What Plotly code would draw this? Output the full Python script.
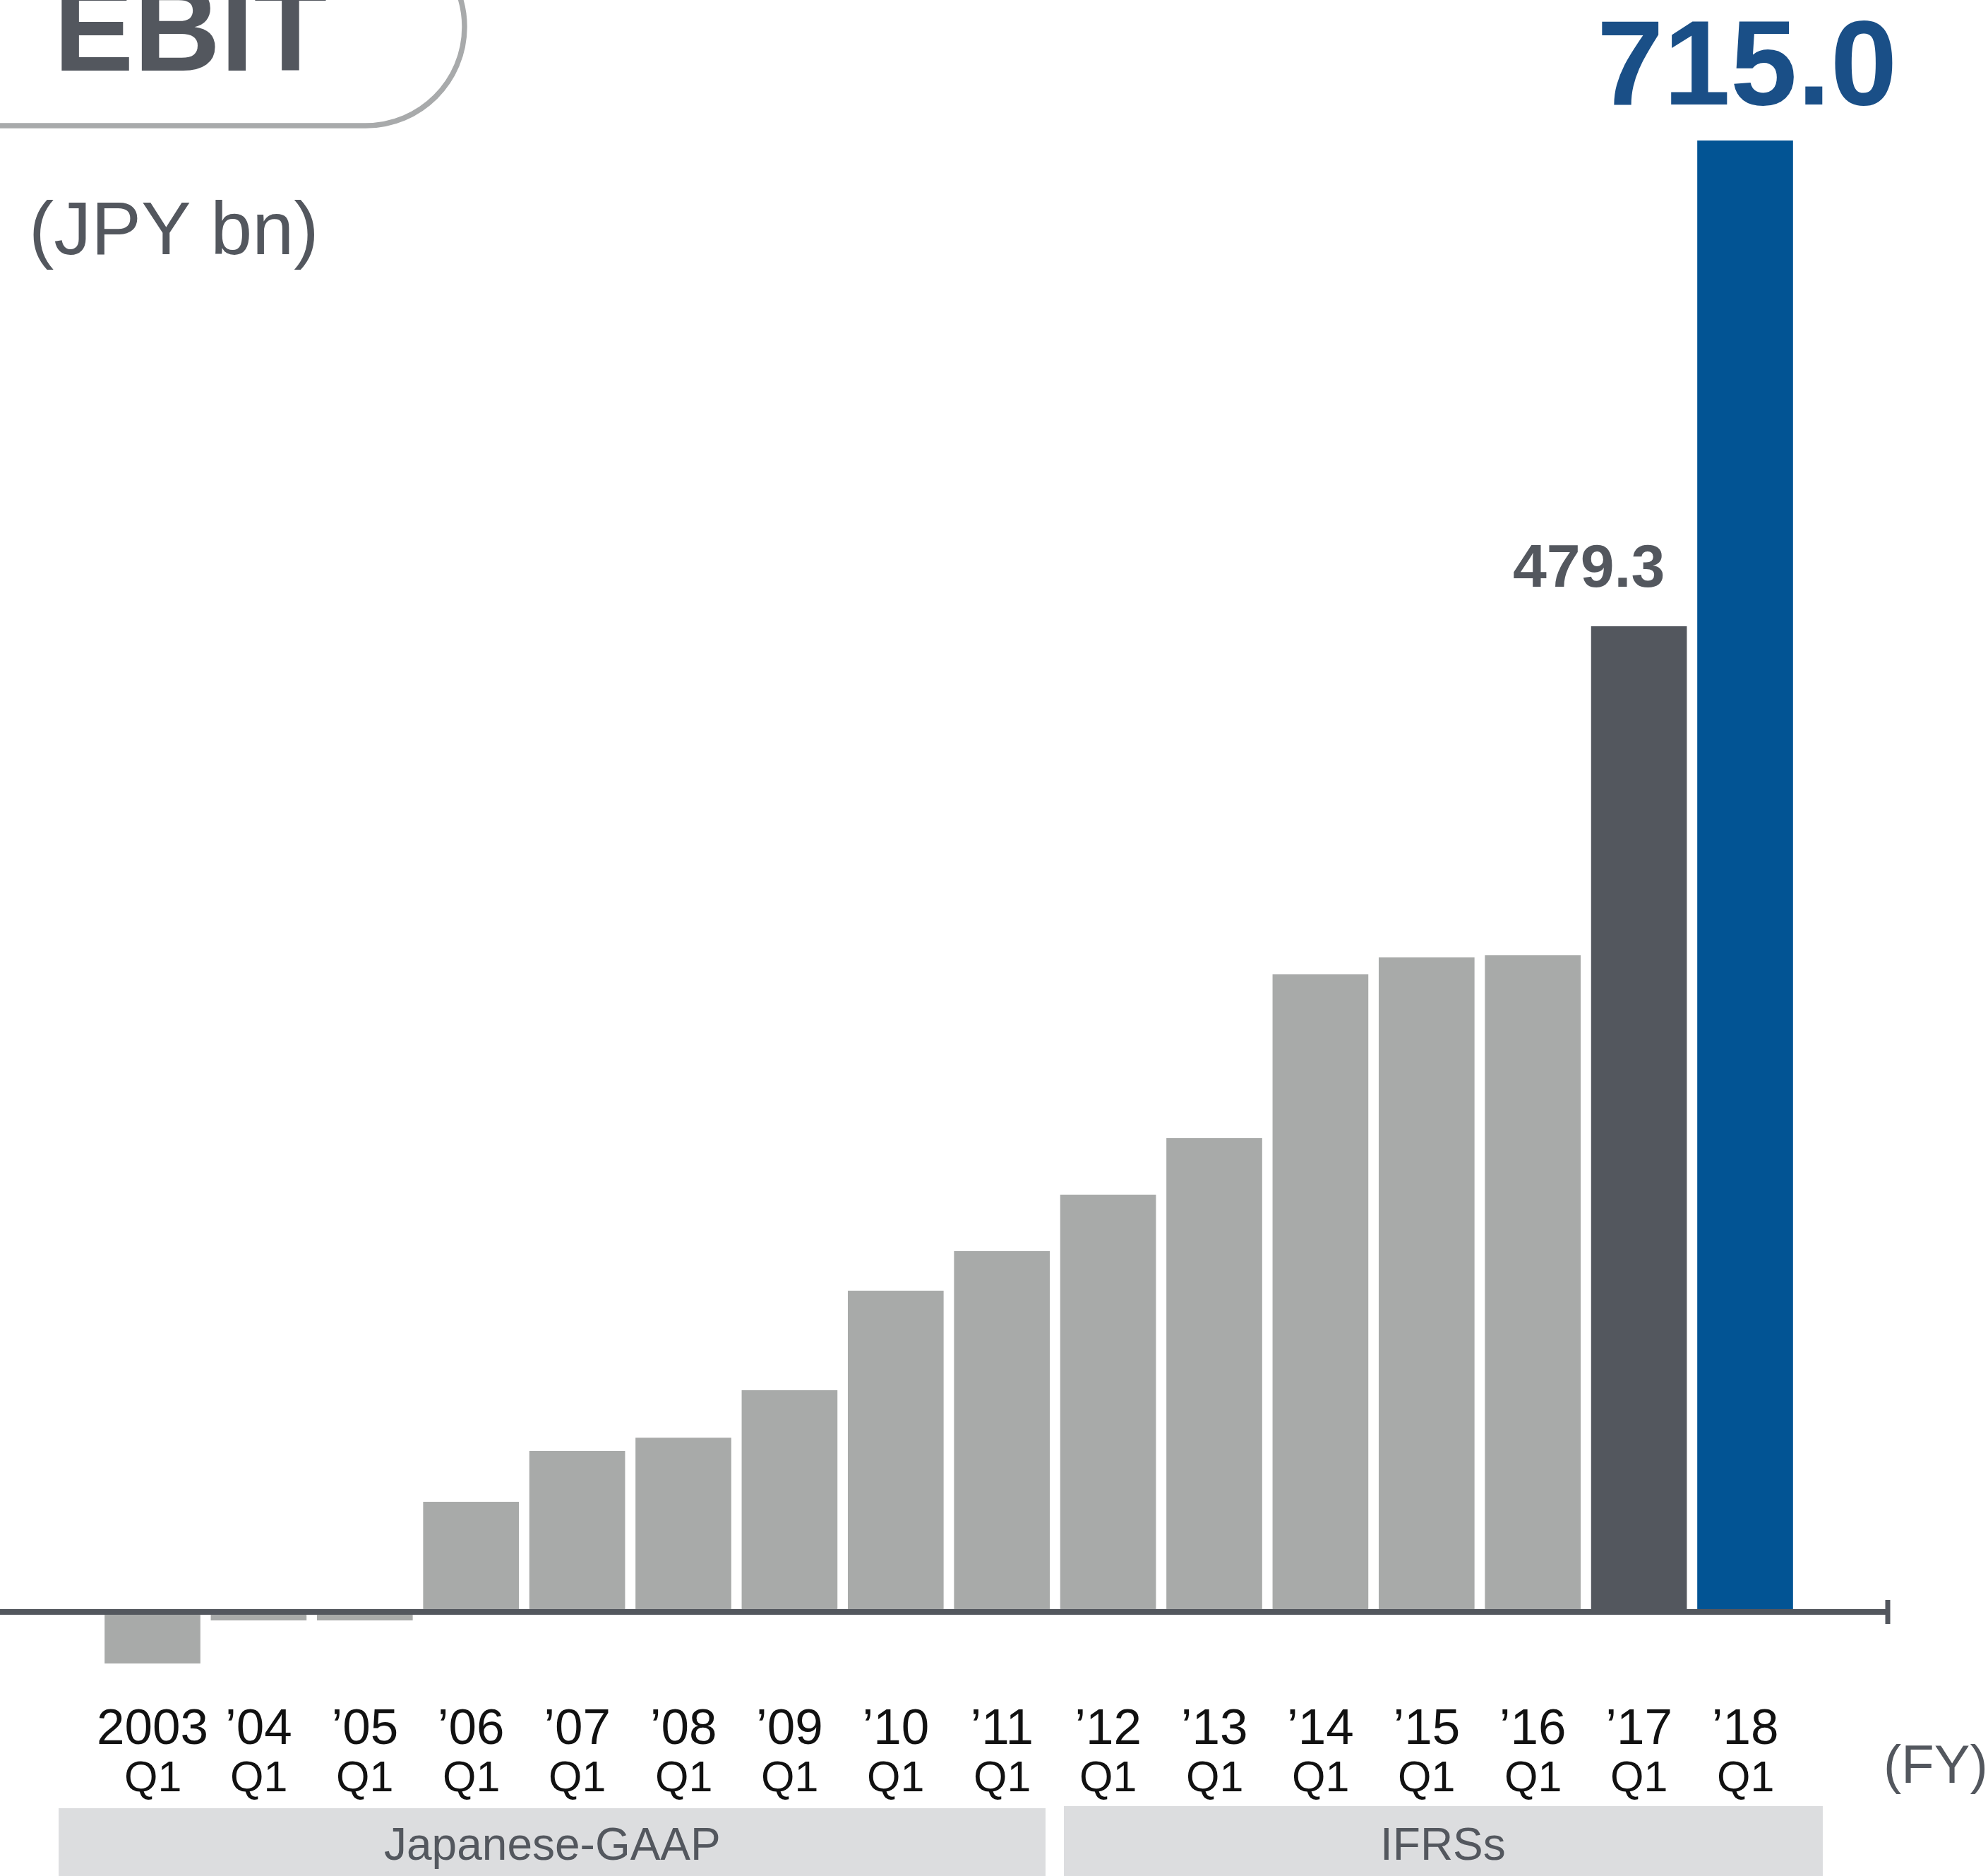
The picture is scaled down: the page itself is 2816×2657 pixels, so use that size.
import plotly.graph_objects as go

# ---- data -------------------------------------------------------------
fiscal_years = ["2003", "’04", "’05", "’06", "’07", "’08", "’09", "’10",
                "’11", "’12", "’13", "’14", "’15", "’16", "’17", "’18"]
quarters = ["Q1"] * len(fiscal_years)
ebit_bn = [-24.0, -3.1, -3.1, 54.5, 79.1, 85.6, 108.6, 156.9,
           176.1, 203.5, 230.9, 310.4, 318.6, 319.6, 479.3, 715.0]
labelled_years = ["’17", "’18"]
standards = ["Japanese-GAAP", "IFRSs"]
standard_first = ["2003", "’12"]
standard_last = ["’11", "’18"]

# ---- canvas / style ---------------------------------------------------
W, H = 2816, 2657
FONT = "Liberation Sans, Arial, sans-serif"
SLATE = "#53575E"
GREY_BAR = "#A8AAA9"
BLUE_BAR = "#025494"
BLUE_TEXT = "#1A4F87"
BAND = "#DCDDDF"
OUTLINE = "#A8AAAB"


def px(x):
    return x / W


def py(y):
    return 1 - y / H


n = len(fiscal_years)
bar_colors = [GREY_BAR] * n
bar_colors[-2] = SLATE
bar_colors[-1] = BLUE_BAR

fig = go.Figure()
fig.add_trace(go.Bar(
    x=fiscal_years, y=ebit_bn,
    marker=dict(color=bar_colors, line=dict(width=0)),
    hoverinfo="x+y",
))

# value labels for the last two years (category serial numbers as x,
# so that "2003" is never read as a number)
label_style = {
    "’17": dict(size=86, color=SLATE, xshift=-71, yshift=86),
    "’18": dict(size=170, color=BLUE_TEXT, xshift=2, yshift=110),
}
for yr in labelled_years:
    i = fiscal_years.index(yr)
    v = ebit_bn[i]
    st = label_style[yr]
    fig.add_annotation(
        x=i, y=v, xref="x", yref="y", text=f"{v:.1f}", showarrow=False,
        xanchor="center", yanchor="middle", xshift=st["xshift"], yshift=st["yshift"],
        font=dict(family=FONT, size=st["size"], color=st["color"], weight="bold"),
    )

# quarter row under the year labels
for i, q in enumerate(quarters):
    fig.add_annotation(
        x=i, y=py(2516), xref="x", yref="paper", text=q, showarrow=False,
        xanchor="center", yanchor="middle",
        font=dict(family=FONT, size=61, color="#111111"),
    )

# accounting-standard bands
band_pad = [(-0.884, 0.411), (-0.416, 0.731)]
band_top = [2561, 2558]
shapes = []
for name, first, last, (lp, rp), top in zip(standards, standard_first, standard_last,
                                            band_pad, band_top):
    i0 = fiscal_years.index(first) + lp
    i1 = fiscal_years.index(last) + rp
    shapes.append(dict(type="rect", xref="x", yref="paper", x0=i0, x1=i1,
                       y0=-0.02, y1=py(top), fillcolor=BAND, line=dict(width=0),
                       layer="below"))
    fig.add_annotation(
        x=(i0 + i1) / 2, y=py(2612), xref="x", yref="paper", text=name,
        showarrow=False, xanchor="center", yanchor="middle",
        font=dict(family=FONT, size=64, color=SLATE),
    )

# baseline with end tick
shapes.append(dict(type="line", xref="paper", yref="paper", x0=0, x1=px(2676),
                   y0=py(2283), y1=py(2283), line=dict(color=SLATE, width=8)))
shapes.append(dict(type="line", xref="paper", yref="paper", x0=px(2674), x1=px(2674),
                   y0=py(2266), y1=py(2300), line=dict(color=SLATE, width=7)))

# rounded title frame
r, cx, cy = 140, 518, 38
k = 0.5523 * r
pts = [(-20, cy + r), (cx, cy + r),
       (cx + k, cy + r), (cx + r, cy + k), (cx + r, cy),
       (cx + r, cy - k), (cx + k, cy - r), (cx, cy - r), (-20, cy - r)]
P = [f"{px(a):.6f},{py(b):.6f}" for a, b in pts]
path = (f"M {P[0]} L {P[1]} C {P[2]} {P[3]} {P[4]} "
        f"C {P[5]} {P[6]} {P[7]} L {P[8]}")
shapes.append(dict(type="path", xref="paper", yref="paper", path=path,
                   line=dict(color=OUTLINE, width=7.5), fillcolor="rgba(0,0,0,0)"))

fig.add_annotation(x=px(269), y=py(41), xref="paper", yref="paper", text="EBIT",
                   showarrow=False, xanchor="center", yanchor="middle",
                   font=dict(family=FONT, size=170, color=SLATE, weight="bold"))
fig.add_annotation(x=px(246), y=py(323), xref="paper", yref="paper", text="(JPY bn)",
                   showarrow=False, xanchor="center", yanchor="middle",
                   font=dict(family=FONT, size=106, color=SLATE))
fig.add_annotation(x=px(2666), y=py(2498), xref="paper", yref="paper", text="(FY)",
                   showarrow=False, xanchor="left", yanchor="middle",
                   font=dict(family=FONT, size=76, color=SLATE))

# value axis: zero at y=2286 px, 2.919 px per JPY bn
y_bot_px, y_top_px, zero_px, scale = 2400, 100, 2286, 2.919
y_range = [-(y_bot_px - zero_px) / scale, (zero_px - y_top_px) / scale]

# category axis: first bar centre at 216 px, pitch 150.4 px
c0, pitch = 216, 150.4
x_range = [-1, 16]
x_dom = [px(c0 + pitch * x_range[0]), px(c0 + pitch * x_range[1])]

fig.update_layout(
    width=W, height=H, margin=dict(l=0, r=0, t=0, b=0),
    paper_bgcolor="white", plot_bgcolor="white",
    showlegend=False, bargap=0.098,
    shapes=shapes,
    xaxis=dict(type="category", range=x_range, domain=x_dom,
               anchor="free", position=py(2398),
               showgrid=False, zeroline=False, showline=False, ticks="",
               tickfont=dict(family=FONT, size=71, color="#111111"),
               fixedrange=True),
    yaxis=dict(range=y_range, domain=[py(y_bot_px), py(y_top_px)],
               visible=False, showgrid=False, zeroline=False, fixedrange=True),
    font=dict(family=FONT),
)

fig.write_html("out.html")
